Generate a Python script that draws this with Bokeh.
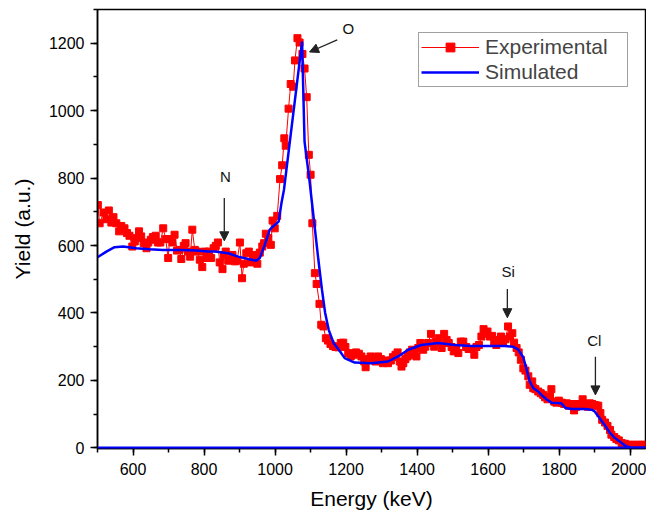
from bokeh.plotting import figure
from bokeh.models import (Range1d, SingleIntervalTicker, Legend, LegendItem, Arrow,
                          NormalHead, Span, ColumnDataSource)
from bokeh.core.properties import value
from bokeh.embed import file_html
from bokeh.resources import INLINE

# ---------------- data ----------------
exp_energy = [501, 506, 517, 525, 532, 539, 545, 553, 561, 567, 576, 583, 590, 598, 605,
              611, 617, 623, 630, 638, 643, 650, 656, 664, 670, 677, 685, 692, 699, 703,
              711, 717, 724, 731, 736, 743, 748, 755, 761, 767, 774, 780, 788, 795, 802,
              808, 814, 820, 827, 833, 839, 844, 852, 856, 861, 868, 874, 880, 887, 893,
              901, 907, 912, 919, 926, 932, 938, 945, 950, 957, 964, 969, 974, 981, 988,
              993, 999, 1006,
              1014, 1020, 1026, 1030, 1038, 1044, 1051, 1056, 1063, 1069, 1077, 1083, 1089,
              1095, 1100, 1105,
              1112, 1117, 1125, 1130, 1136, 1143, 1149, 1156, 1163, 1170, 1178, 1185, 1192,
              1198, 1206, 1213, 1221, 1228, 1236, 1243, 1251, 1255, 1262, 1269, 1276, 1283,
              1290, 1298, 1304, 1311, 1318, 1326, 1332, 1339, 1345, 1351, 1356, 1361, 1367,
              1373, 1379, 1386, 1393, 1398, 1403, 1409, 1417, 1423, 1431, 1439,
              1448, 1454, 1461, 1469, 1476, 1483, 1489, 1497, 1503, 1510, 1516, 1523, 1530,
              1538, 1545, 1553, 1561, 1567, 1574, 1581, 1587, 1592, 1598, 1605, 1611, 1617,
              1623, 1630, 1636, 1642, 1649, 1656, 1661, 1668, 1673, 1680, 1686, 1692, 1699,
              1705, 1713,
              1717, 1724, 1727, 1733, 1741, 1748, 1755, 1760, 1767, 1774, 1778, 1786, 1792,
              1799, 1807, 1814, 1821, 1827, 1835, 1842, 1849, 1854, 1861, 1866, 1872, 1880,
              1886, 1893, 1900, 1905, 1910, 1916, 1921, 1929, 1936, 1943, 1947, 1955, 1961,
              1968, 1976, 1985, 1994, 2004, 2013, 2023, 2032, 2041]
exp_yield = [720, 666, 698, 678, 704, 668, 684, 666, 642, 658, 651, 637, 629, 597, 612,
             622, 642, 627, 607, 592, 609, 617, 625, 629, 609, 609, 651, 619, 563, 619,
             609, 632, 585, 587, 560, 599, 607, 582, 567, 647, 587, 582, 558, 536, 582,
             563, 582, 563, 592, 599, 609, 550, 530, 572, 582, 555, 558, 572, 553, 555,
             609, 503, 546, 577, 582, 550, 563, 572, 546, 579, 597, 607, 635, 622, 602,
             674, 651, 688,
             797, 838, 918, 896, 1006, 1079, 1071, 1149, 1215, 1202, 1168, 1125, 1040,
             869, 810, 666,
             518, 486, 427, 365, 360, 325, 318, 308, 302, 299, 298, 311, 312,
             299, 281, 271, 276, 283, 279, 271, 256, 239, 263, 271, 263, 256,
             271, 263, 251, 259, 251, 259, 269, 276, 283, 256, 241, 251, 263,
             271, 283, 291, 276, 271, 296, 311, 291, 300, 311, 338,
             300, 315, 325, 296, 338, 320, 311, 299, 286, 293, 281, 315, 315,
             299, 293, 293, 276, 299, 305, 330, 352, 338, 345, 330, 332, 312,
             305, 320, 330, 315, 322, 360, 330, 340, 312, 296, 283, 261, 236,
             229, 212,
             187, 197, 177, 174, 167, 162, 157, 150, 144, 152, 174, 137, 134,
             140, 134, 130, 132, 125, 130, 111, 122, 130, 127, 144, 130, 122,
             132, 130, 127, 125, 125, 103, 83, 75, 65, 53, 39, 32, 26,
             22, 14, 12, 9, 9, 9, 9, 9, 9]

sim_energy = [500, 525, 548, 572, 609, 647, 684, 731, 778, 811, 830, 868, 896, 924, 947,
              957, 971, 985, 999, 1010, 1018, 1025, 1076, 1083, 1097, 1103, 1122, 1132,
              1141, 1151, 1165, 1184, 1196, 1224, 1271, 1318, 1346, 1375, 1412, 1459,
              1506, 1553, 1647, 1670, 1685, 1699, 1708, 1717, 1727, 1741, 1750, 1764,
              1778, 1806, 1818, 1835, 1872, 1891, 1900, 1914, 1928, 1943, 1957, 1976,
              1990, 2004, 2045]
sim_yield = [565, 582, 595, 597, 592, 589, 587, 587, 585, 582, 582, 577, 567, 560, 555,
             563, 602, 647, 661, 671, 726, 765, 1205, 908, 792, 735, 557, 469,
             400, 350, 310, 284, 266, 253, 251, 256, 271, 291, 305, 311,
             305, 302, 302, 300, 291, 268, 233, 197, 177, 167, 157, 144,
             134, 132, 118, 115, 115, 113, 108, 88, 68, 44, 29, 14,
             4, 0, 0]

ann_label = ["N", "O", "Si", "Cl"]
ann_text_x = [860, 1206, 1656, 1899]
ann_text_y = [804, 1243, 522, 317]
arrow_x0 = [857, 1175, 1654, 1902]
arrow_y0 = [741, 1210, 471, 270]
arrow_x1 = [857, 1097, 1654, 1902]
arrow_y1 = [614, 1174, 386, 157]

FONT = "Liberation Sans"

p = figure(width=646, height=513, x_range=Range1d(500, 2043), y_range=Range1d(-2, 1300),
           output_backend="svg", toolbar_location=None,
           min_border_left=97, min_border_right=1, min_border_top=9, min_border_bottom=65,
           x_axis_label="Energy (keV)", y_axis_label="Yield (a.u.)")
p.grid.visible = False
p.outline_line_color = "black"
p.outline_line_width = 1.5
p.background_fill_color = "white"
p.border_fill_color = "white"

p.xaxis.ticker = SingleIntervalTicker(interval=200, num_minor_ticks=2)
p.yaxis.ticker = SingleIntervalTicker(interval=200, num_minor_ticks=2)
for ax in (p.xaxis[0], p.yaxis[0]):
    ax.axis_line_width = 1.5
    ax.axis_line_color = "black"
    ax.major_tick_line_width = 1.5
    ax.minor_tick_line_width = 1.5
    ax.major_tick_line_color = "black"
    ax.minor_tick_line_color = "black"
    ax.major_tick_in = 0
    ax.major_tick_out = 7
    ax.minor_tick_in = 0
    ax.minor_tick_out = 4
    ax.major_label_text_font = FONT
    ax.major_label_text_font_size = "16px"
    ax.major_label_text_color = "black"
    ax.axis_label_text_font = FONT
    ax.axis_label_text_font_size = "21px"
    ax.axis_label_text_font_style = "normal"
    ax.axis_label_text_color = "black"
p.xaxis.major_label_standoff = 7
p.xaxis.axis_label_standoff = 9
p.yaxis.major_label_standoff = 6
p.yaxis.axis_label_standoff = 12

# baseline of the simulation at zero
p.add_layout(Span(location=0, dimension="width", line_color="#0000FF", line_width=2.5))

exp_line = p.line(exp_energy, exp_yield, line_color="#FF0000", line_width=1)
exp_pts = p.scatter(exp_energy, exp_yield, marker="square", size=7,
                    fill_color="#FF0000", line_color="#FF0000")
sim_line = p.line(sim_energy, sim_yield, line_color="#0000FF", line_width=2.5)

arrows = ColumnDataSource(dict(x0=arrow_x0, y0=arrow_y0, x1=arrow_x1, y1=arrow_y1))
p.add_layout(Arrow(end=NormalHead(size=9, fill_color="#222222", line_color="#222222"),
                   x_start="x0", y_start="y0", x_end="x1", y_end="y1",
                   line_color="#222222", line_width=1.3, source=arrows))
p.text(x=ann_text_x, y=ann_text_y, text=ann_label, text_font=value(FONT),
       text_font_size="15px", text_align="center", text_baseline="middle",
       text_color="#111111")

legend = Legend(items=[LegendItem(label="Experimental", renderers=[exp_line, exp_pts]),
                       LegendItem(label="Simulated", renderers=[sim_line])],
                location=(321, 361), margin=0, padding=2, spacing=1,
                glyph_width=58, glyph_height=22, label_height=22, label_width=140,
                label_standoff=6, label_text_font=FONT, label_text_font_size="21px",
                border_line_color="#444444", border_line_width=1.2,
                background_fill_alpha=1.0)
p.add_layout(legend)

open("out.html", "w").write(file_html(p, INLINE))
